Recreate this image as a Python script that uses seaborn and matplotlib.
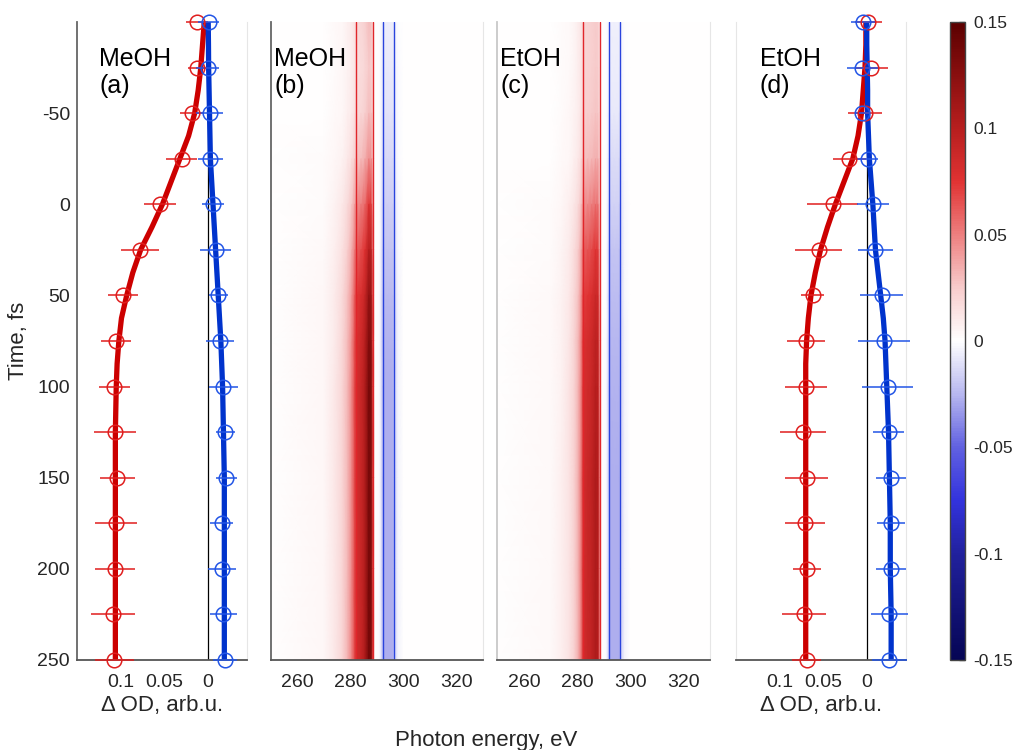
import numpy as np
import seaborn as sns
import matplotlib.pyplot as plt
from matplotlib.colors import LinearSegmentedColormap

# tempos dos pontos medidos (fs)
time = [-100, -75, -50, -25, 0, 25, 50, 75, 100, 125, 150, 175, 200, 225, 250]

# MeOH (a)
red_a = [0.012, 0.012, 0.018, 0.030, 0.055, 0.078, 0.097, 0.105, 0.107, 0.106, 0.104, 0.105, 0.106, 0.109, 0.107]
red_a_err = [0.0125, 0.011, 0.014, 0.018, 0.018, 0.022, 0.017, 0.017, 0.018, 0.024, 0.020, 0.024, 0.023, 0.025, 0.022]
blue_a = [-0.001, 0.0, -0.002, -0.003, -0.006, -0.009, -0.012, -0.014, -0.018, -0.020, -0.021, -0.016, -0.016, -0.018, -0.020]
blue_a_err = [0.012, 0.013, 0.015, 0.014, 0.013, 0.018, 0.011, 0.016, 0.017, 0.011, 0.012, 0.013, 0.016, 0.016, 0.014]

# EtOH (d)
red_d = [-0.002, -0.005, 0.002, 0.020, 0.039, 0.055, 0.062, 0.070, 0.070, 0.073, 0.069, 0.071, 0.069, 0.072, 0.069]
red_d_err = [0.015, 0.019, 0.020, 0.019, 0.029, 0.027, 0.013, 0.022, 0.024, 0.026, 0.025, 0.023, 0.016, 0.025, 0.017]
blue_d = [0.004, 0.005, 0.005, -0.001, -0.007, -0.010, -0.017, -0.020, -0.024, -0.025, -0.028, -0.028, -0.028, -0.026, -0.026]
blue_d_err = [0.014, 0.018, 0.008, 0.012, 0.018, 0.020, 0.025, 0.030, 0.029, 0.018, 0.017, 0.016, 0.017, 0.021, 0.020]

# curvas de ajuste
fit_time = [-100, -87.5, -75, -62.5, -50, -37.5, -25, -12.5, 0, 12.5, 25, 37.5, 50, 62.5, 75, 87.5,
            100, 125, 150, 175, 200, 225, 250]
fit_red_a = [0.004, 0.006, 0.008, 0.011, 0.015, 0.022, 0.032, 0.042, 0.052, 0.064, 0.077, 0.086, 0.093,
             0.099, 0.102, 0.104, 0.105, 0.106, 0.106, 0.106, 0.106, 0.106, 0.106]
fit_blue_a = [-0.0005, -0.0008, -0.001, -0.0015, -0.002, -0.0025, -0.003, -0.0045, -0.006, -0.0075, -0.009,
              -0.0105, -0.012, -0.0135, -0.015, -0.016, -0.017, -0.018, -0.019, -0.019, -0.019, -0.019, -0.019]
fit_red_d = [0.001, 0.001, 0.002, 0.004, 0.006, 0.010, 0.016, 0.026, 0.036, 0.045, 0.053, 0.059, 0.064,
             0.067, 0.069, 0.070, 0.070, 0.070, 0.070, 0.070, 0.070, 0.070, 0.070]
fit_blue_d = [0.0, 0.0, -0.0005, -0.001, -0.001, -0.002, -0.003, -0.005, -0.007, -0.0085, -0.010, -0.013,
              -0.016, -0.019, -0.021, -0.022, -0.023, -0.025, -0.026, -0.027, -0.027, -0.028, -0.028]

# mapas (b) e (c): perfil espectral x amplitude no tempo
energy = [250, 270, 274, 277, 279, 280.5, 281.6, 282.4, 284, 285.5, 287, 288, 288.6, 289.2, 291, 291.8,
          292.5, 294, 296, 296.6, 298, 300, 330]
red_prof_b = [0, 0.03, 0.08, 0.15, 0.24, 0.35, 0.5, 0.62, 0.66, 0.76, 1.0, 0.95, 0.5, 0, 0, 0, 0, 0, 0, 0, 0, 0, 0]
red_prof_c = [0, 0.03, 0.07, 0.13, 0.22, 0.33, 0.5, 0.8, 0.85, 0.9, 1.0, 0.95, 0.5, 0, 0, 0, 0, 0, 0, 0, 0, 0, 0]
blue_prof = [0, 0, 0, 0, 0, 0, 0, 0, 0, 0, 0, 0, 0, 0, 0.05, 0.5, 1, 1, 1, 0.6, 0.15, 0, 0]
heat_time = [-100, -75, -50, -25, 0, 25, 50, 75, 100, 150, 200, 250]
heat_red_b = [0.03, 0.025, 0.03, 0.045, 0.075, 0.10, 0.12, 0.13, 0.135, 0.135, 0.135, 0.138]
heat_blue_b = [-0.006, -0.008, -0.01, -0.013, -0.017, -0.021, -0.024, -0.026, -0.027, -0.028, -0.028, -0.028]
heat_red_c = [0.025, 0.025, 0.028, 0.035, 0.055, 0.075, 0.088, 0.097, 0.10, 0.105, 0.105, 0.105]
heat_blue_c = [-0.005, -0.006, -0.008, -0.012, -0.016, -0.02, -0.023, -0.025, -0.026, -0.027, -0.027, -0.027]

red_lines = [282.3, 288.5]
blue_lines = [292.2, 296.3]

sns.set_style('white')
plt.rcParams['font.family'] = ['Liberation Sans', 'DejaVu Sans']

cmap = LinearSegmentedColormap.from_list('redblue', [
    (0.0, (0.02, 0.02, 0.33)), (1/6, (0.13, 0.13, 0.62)), (0.25, (0.2, 0.2, 0.87)),
    (1/3, (0.38, 0.38, 0.88)), (5/12, (0.72, 0.72, 0.94)), (0.5, (1, 1, 1)),
    (7/12, (0.97, 0.8, 0.8)), (2/3, (0.93, 0.5, 0.5)), (0.75, (0.88, 0.2, 0.2)),
    (5/6, (0.72, 0.12, 0.12)), (1.0, (0.36, 0.0, 0.0))])

RED_L, RED_M = '#cc0000', '#e01e1e'
BLUE_L, BLUE_M = '#0033cc', '#2255e6'
GREY = '#262626'

fig = plt.figure(figsize=(10.16, 7.5), dpi=100)
bot, hgt = 0.12, 0.8507
ax_a = fig.add_axes([0.0758, bot, 0.1673, hgt])
ax_b = fig.add_axes([0.2664, bot, 0.209, hgt])
ax_c = fig.add_axes([0.4895, bot, 0.209, hgt])
ax_d = fig.add_axes([0.7244, bot, 0.1673, hgt])
cax = fig.add_axes([0.935, bot, 0.0148, hgt])


def painel_cinetica(ax, red, red_err, blue, blue_err, fit_r, fit_b):
    ax.axvline(0, color='black', lw=0.9, zorder=1)
    ax.errorbar(red, time, xerr=red_err, fmt='o', mfc='none', mec=RED_M, ecolor=RED_M,
                ms=10.5, mew=1.1, elinewidth=1.1, capsize=0, zorder=3, clip_on=False)
    ax.errorbar(blue, time, xerr=blue_err, fmt='o', mfc='none', mec=BLUE_M, ecolor=BLUE_M,
                ms=10.5, mew=1.1, elinewidth=1.1, capsize=0, zorder=3, clip_on=False)
    sns.lineplot(x=fit_r, y=fit_time, ax=ax, color=RED_L, lw=3.8, sort=False, estimator=None, zorder=2)
    sns.lineplot(x=fit_b, y=fit_time, ax=ax, color=BLUE_L, lw=3.8, sort=False, estimator=None, zorder=2)
    ax.set_xlim(0.15, -0.045)
    ax.set_ylim(250, -100)
    ax.set_xticks([0.1, 0.05, 0])
    ax.set_xticklabels(['0.1', '0.05', '0'])
    ax.set_xlabel('Δ OD, arb.u.', fontsize=16, labelpad=3)
    ax.set_ylabel('')


painel_cinetica(ax_a, red_a, red_a_err, blue_a, blue_a_err, fit_red_a, fit_blue_a)
painel_cinetica(ax_d, red_d, red_d_err, blue_d, blue_d_err, fit_red_d, fit_blue_d)

for ax, hr, hb, rp in [(ax_b, heat_red_b, heat_blue_b, red_prof_b), (ax_c, heat_red_c, heat_blue_c, red_prof_c)]:
    z = np.outer(hr, rp) + np.outer(hb, blue_prof)
    mesh = ax.pcolormesh(energy, heat_time, z, cmap=cmap, vmin=-0.15, vmax=0.15, shading='gouraud')
    for e in red_lines:
        ax.axvline(e, color='#e0262b', lw=1.0)
    for e in blue_lines:
        ax.axvline(e, color='#2a44dd', lw=1.0)
    ax.set_xlim(250, 330)
    ax.set_ylim(250, -100)
    ax.set_xticks([260, 280, 300, 320])
    ax.set_yticks([])

ax_a.set_yticks([-50, 0, 50, 100, 150, 200, 250])
ax_a.set_yticklabels(['-50', '0', '50', '100', '150', '200', '250'])
ax_a.set_ylabel('Time, fs', fontsize=16, labelpad=6)
ax_d.set_yticks([])

for ax in [ax_a, ax_b, ax_c, ax_d]:
    ax.tick_params(direction='in', labelsize=14, colors=GREY, length=5, width=0.9, pad=5)
    ax.tick_params(axis='x', pad=10)
    ax.spines['top'].set_visible(False)
    ax.spines['bottom'].set_color('#555555')
    ax.spines['bottom'].set_linewidth(1.3)
    ax.spines['right'].set_color('#e6e6e6')
    ax.spines['right'].set_linewidth(0.8)
    ax.spines['left'].set_linewidth(1.3)
for ax in [ax_b, ax_c]:
    ax.tick_params(axis='x', length=0)
ax_a.spines['left'].set_color('#666666')
ax_b.spines['left'].set_color('#666666')
ax_c.spines['left'].set_color('#c8c8c8')
ax_d.spines['left'].set_color('#e6e6e6')
ax_d.spines['left'].set_linewidth(0.8)

labels = [(ax_a, 'MeOH\n(a)', 0.13), (ax_b, 'MeOH\n(b)', 0.016), (ax_c, 'EtOH\n(c)', 0.013), (ax_d, 'EtOH\n(d)', 0.14)]
for ax, txt, xp in labels:
    ax.text(xp, 0.96, txt, transform=ax.transAxes, fontsize=18, va='top', ha='left',
            color='black', linespacing=1.15, zorder=5)

cb = fig.colorbar(mesh, cax=cax, ticks=[-0.15, -0.1, -0.05, 0, 0.05, 0.1, 0.15])
cb.ax.set_yticklabels(['-0.15', '-0.1', '-0.05', '0', '0.05', '0.1', '0.15'])
cb.ax.tick_params(direction='in', labelsize=12.5, colors=GREY, length=4, width=0.9, pad=6)
cb.outline.set_edgecolor('#444444')
cb.outline.set_linewidth(1.0)

fig.text(0.479, 0.013, 'Photon energy, eV', ha='center', va='center', fontsize=16, color=GREY)

fig.savefig('out.png', dpi=100)
